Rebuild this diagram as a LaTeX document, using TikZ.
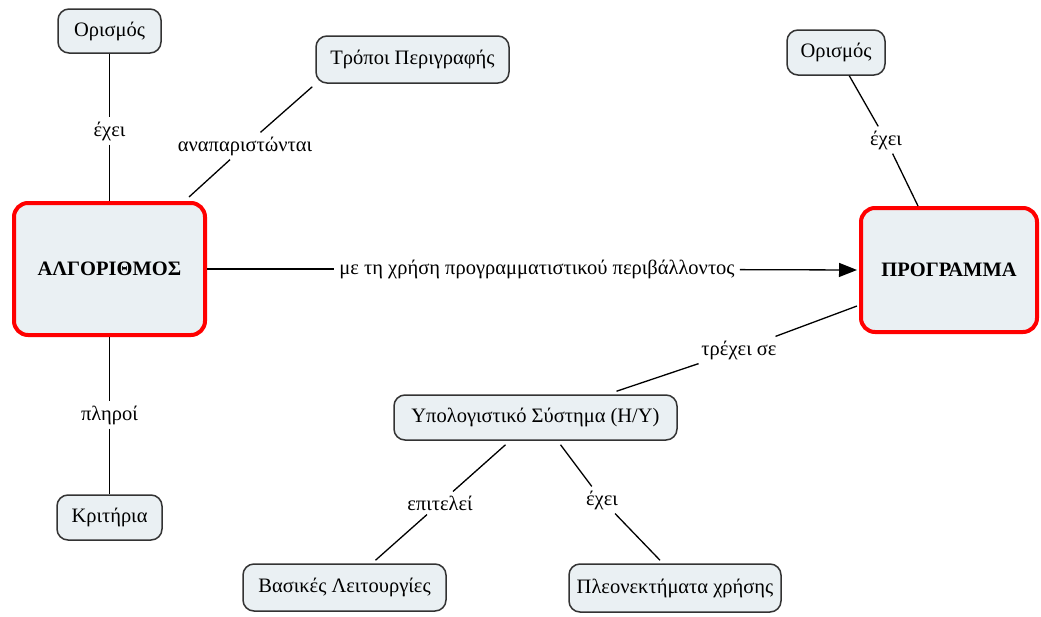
\documentclass[tikz,border=0pt]{standalone}
\usepackage{fontspec}
\setmainfont{Liberation Serif}
\usetikzlibrary{arrows.meta,calc}
\definecolor{boxfill}{HTML}{EAF0F3}
\definecolor{boxline}{HTML}{333333}
\begin{document}
\begin{tikzpicture}[x=1pt,y=-1pt,
  concept/.style={draw=boxline, line width=1.5pt, fill=boxfill, rounded corners=11pt,
    inner sep=0pt, font=\fontsize{20.5}{24}\selectfont},
  keyconcept/.style={draw=red, line width=4pt, fill=boxfill, rounded corners=14pt,
    inner sep=0pt, font=\fontsize{20.5}{24}\selectfont\bfseries},
  linklabel/.style={inner xsep=5pt, inner ysep=4pt, font=\fontsize{20.5}{24}\selectfont},
  link/.style={line width=1.3pt, draw=black}
]
\useasboundingbox (0,0) rectangle (1041,616);

% concepts
\node[concept, minimum width=103pt, minimum height=44pt] (def1) at (109.5,31) {Ορισμός};
\node[concept, minimum width=193pt, minimum height=47pt] (trop) at (412.5,59.5) {Τρόποι Περιγραφής};
\node[keyconcept, minimum width=191pt, minimum height=132pt] (alg) at (109.5,269) {ΑΛΓΟΡΙΘΜΟΣ};
\node[keyconcept, minimum width=176pt, minimum height=124pt] (prog) at (949,270) {ΠΡΟΓΡΑΜΜΑ};
\node[concept, minimum width=98pt, minimum height=45pt] (def2) at (836,52.5) {Ορισμός};
\node[concept, minimum width=283pt, minimum height=45pt] (hy) at (535.5,417.5) {Υπολογιστικό Σύστημα (H/Y)};
\node[concept, minimum width=105pt, minimum height=45pt] (krit) at (109.5,517.5) {Κριτήρια};
\node[concept, minimum width=203pt, minimum height=47pt] (bl) at (344.5,587.5) {Βασικές Λειτουργίες};
\node[concept, minimum width=212pt, minimum height=48pt] (ple) at (675,588) {Πλεονεκτήματα χρήσης};

% linking phrases
\node[linklabel] (l1) at (109.5,131) {έχει};
\node[linklabel] (l2) at (245,146) {αναπαριστώνται};
\node[linklabel] (l3) at (537,269) {με τη χρήση προγραμματιστικού περιβάλλοντος};
\node[linklabel] (l4) at (886,140) {έχει};
\node[linklabel] (l5) at (739,350) {τρέχει σε};
\node[linklabel] (l6) at (109.5,415) {πληροί};
\node[linklabel] (l7) at (440,503) {επιτελεί};
\node[linklabel] (l8) at (602,500) {έχει};

% connectors
\draw[link] (def1) -- (l1);
\draw[link] (l1) -- (alg);
\draw[link] ($(trop.south west)+(-3,3)$) -- (l2);
\draw[link] (l2) -- ($(alg.north east)+(-18,-4)$);
\draw[link] (alg.east) -- (l3);
\draw[link, -{Triangle[length=18pt,width=14pt]}, shorten >=2pt] (l3) -- (prog.west);
\draw[link] (def2) -- (l4);
\draw[link] (l4) -- (prog);
\draw[link] ($(prog.west)+(-2,36)$) -- (l5);
\draw[link] (l5) -- ($(hy.north)+(81,-3)$);
\draw[link] (alg) -- (l6);
\draw[link] (l6) -- (krit);
\draw[link] ($(hy.south)+(-30,4)$) -- (l7);
\draw[link] (l7) -- ($(bl.north)+(31,-3)$);
\draw[link] ($(hy.south)+(25,4)$) -- (l8);
\draw[link] (l8) -- ($(ple.north)+(-15,-3)$);
\end{tikzpicture}
\end{document}
